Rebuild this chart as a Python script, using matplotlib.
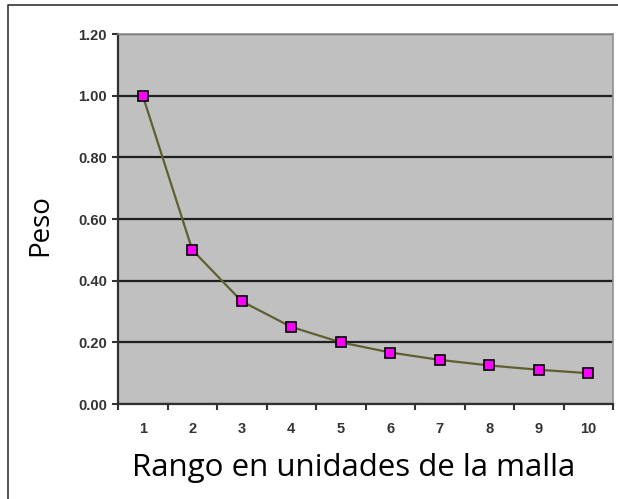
import matplotlib.pyplot as plt
from matplotlib.lines import Line2D
import numpy as np

rango = [1, 2, 3, 4, 5, 6, 7, 8, 9, 10]
peso = [1.00, 0.50, 0.333, 0.25, 0.20, 0.167, 0.143, 0.125, 0.111, 0.10]
y_ticks = [0.0, 0.2, 0.4, 0.6, 0.8, 1.0, 1.2]


def main():
    fig = plt.figure(figsize=(6.18, 4.99), dpi=100)
    ax = fig.add_axes([118 / 618, 1 - 404 / 499, 495 / 618, 370 / 499])
    ax.set_facecolor('#c0c0c0')

    ax.plot(rango, peso, color='#5f5f2f', lw=1.6, marker='s', ms=7.5,
            mfc='#ff00ff', mec='black', mew=1.2, zorder=3)

    ax.set_xlim(0.5, 10.5)
    ax.set_ylim(0, 1.2)

    # gridlines en negro como en Excel
    ax.set_yticks(y_ticks)
    ax.set_yticklabels([f'{v:.2f}' for v in y_ticks])
    ax.yaxis.grid(True, color='#202020', lw=1.6)
    ax.set_axisbelow(True)

    # ticks del eje x entre categorías, etiquetas en el centro
    ax.set_xticks(np.arange(0.5, 11, 1))
    ax.set_xticklabels([])
    ax.set_xticks(rango, minor=True)
    ax.set_xticklabels([str(r) for r in rango], minor=True)
    ax.tick_params(axis='x', which='minor', length=0, pad=13)
    ax.tick_params(axis='x', which='major', length=4, width=1.5, color='#333333')
    ax.tick_params(axis='y', length=4, width=1.5, color='#333333', pad=4)
    for lab in ax.get_xticklabels(minor=True) + ax.get_yticklabels():
        lab.set_fontfamily('Liberation Sans')
        lab.set_fontsize(10.5)
        lab.set_fontweight('bold')
        lab.set_color('#333333')

    for s in ['left', 'bottom']:
        ax.spines[s].set_color('#303030')
        ax.spines[s].set_linewidth(1.6)
    for s in ['top', 'right']:
        ax.spines[s].set_color('#909090')
        ax.spines[s].set_linewidth(1.2)

    fig.text(40 / 618, 1 - 225 / 499, 'Peso', rotation=90, ha='center',
             va='center', fontsize=20, family='Open Sans')
    fig.text(354 / 618, 1 - 468 / 499, 'Rango en unidades de la malla',
             ha='center', va='center', fontsize=22.5, family='Open Sans')

    # borde exterior
    fig.add_artist(Line2D([8 / 618, 8 / 618, 1], [0, 1 - 5 / 499, 1 - 5 / 499],
                          color='#333333', lw=1.2, transform=fig.transFigure))

    fig.savefig('out.png', dpi=100)


if __name__ == "__main__":
    main()
